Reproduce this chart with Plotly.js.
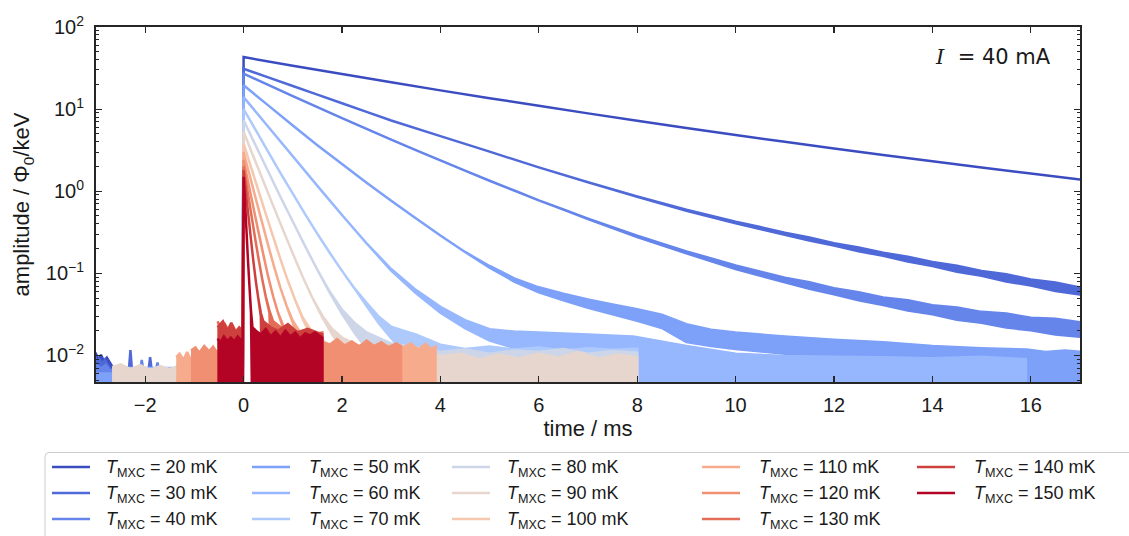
<!DOCTYPE html>
<html><head><meta charset="utf-8">
<script src="https://cdn.plot.ly/plotly-3.0.1.min.js"></script>
<style>html,body{margin:0;padding:0;background:#fff}#chart{width:1129px;height:536px}</style>
</head><body><div id="chart"></div>
<script>
// ---------------- data ----------------
const temps = [20, 30, 40, 50, 60, 70, 80, 90, 100, 110, 120, 130, 140, 150];
const colors = ['#3b4cc0','#4f69d8','#6585eb','#7da0f8','#96b7fe','#aec9fb','#cdd6e8',
                '#e6d6ce','#f4c7ae','#f7ab8d','#f18f72','#e36d57','#ce403d','#b40426'];

// each trace: time (ms), upper envelope, lower envelope (amplitude / Phi0/keV)
const t20  = [-3.5,-3.0,-2.95,-2.9,-2.84,-2.78,-2.72,-2.66,-2.0,-1.0,-0.02, 0,1,2,3,4,5,6,7,8,9,10,11,12,13,14,15,16,17,17.5];
const hi20 = [0.0095,0.0105,0.0088,0.0102,0.0086,0.0094,0.0082,0.0072,0.0068,0.0068,0.0068, 43,33.8,26.7,21.2,16.9,13.6,11.0,8.87,7.21,5.90,4.84,3.99,3.31,2.76,2.31,1.94,1.64,1.39,1.28];
const lo20 = [0.001,0.001,0.001,0.001,0.001,0.001,0.001,0.001,0.001,0.001,0.001, 43,33.8,26.7,21.2,16.9,13.6,11.0,8.87,7.21,5.90,4.84,3.99,3.31,2.76,2.31,1.94,1.64,1.39,1.28];

const t30  = [-3.5,-3.02,-2.97,-2.93,-2.88,-2.82,-2.76,-2.7,-2.33,-2.3,-2.27,-1.93,-1.9,-1.87,-1.0,-0.02, 0,0.5,1,1.5,2,2.5,3,4,5,6,7,8,9,10,10.5,11,11.5,12,12.5,13,13.5,14,14.5,15,15.5,16,16.5,17,17.5];
const hi30 = [0.0085,0.0098,0.0083,0.0092,0.0078,0.0088,0.0076,0.0068,0.0068,0.0116,0.0068,0.0068,0.0095,0.0068,0.0066,0.0066, 31,24.3,19.1,15.0,11.8,9.25,7.26,4.69,3.03,1.95,1.285,0.865,0.595,0.425,0.366,0.311,0.273,0.233,0.207,0.178,0.159,0.137,0.1237,0.1066,0.0972,0.0841,0.0772,0.0669,0.0603];
const lo30 = [0.001,0.001,0.001,0.001,0.001,0.001,0.001,0.001,0.001,0.001,0.001,0.001,0.001,0.001,0.001,0.001, 31,24.3,19.1,15.0,11.8,9.25,7.26,4.69,3.03,1.95,1.285,0.853,0.579,0.407,0.345,0.295,0.250,0.218,0.186,0.163,0.1387,0.1225,0.1047,0.0933,0.0795,0.0712,0.0608,0.0551,0.0479];

const t40  = [-3.5,-3.0,-2.9,-2.8,-2.72,-2.1,-2.07,-2.04,-1.78,-1.75,-1.72,-1.0,-0.02, 0,0.5,1,1.5,2,2.5,3,3.5,4,4.5,5,5.5,6,6.5,7,8,9,10,11,11.5,12,12.5,13,13.5,14,14.5,15,15.5,16,16.5,17,17.5];
const hi40 = [0.0072,0.0078,0.007,0.0076,0.0066,0.0066,0.0088,0.0066,0.0066,0.0082,0.0066,0.0064,0.0064, 27,19.7,14.4,10.6,7.78,5.75,4.26,3.17,2.37,1.78,1.34,1.02,0.774,0.598,0.464,0.288,0.185,0.125,0.0884,0.0776,0.0656,0.0589,0.0509,0.0469,0.0409,0.0383,0.0339,0.0323,0.0288,0.0279,0.0254,0.0240];
const lo40 = [0.001,0.001,0.001,0.001,0.001,0.001,0.001,0.001,0.001,0.001,0.001,0.001,0.001, 27,19.7,14.4,10.6,7.78,5.75,4.26,3.17,2.37,1.78,1.34,1.02,0.774,0.598,0.456,0.277,0.175,0.113,0.0777,0.0646,0.0556,0.0468,0.0411,0.0352,0.0316,0.0272,0.025,0.0218,0.0203,0.018,0.0169,0.0154];

const t50  = [-3.5,-1.0,-0.02, 0,0.5,1,1.5,2,2.5,3,3.5,4,4.5,5,5.5,6,6.5,7,7.5,8,8.5,9,9.5,10,11,12,13,14,15,15.9,15.92,16.3,16.7,17.5];
const hi50 = [0.006,0.006,0.006, 19.5,11.1,6.3,3.63,2.14,1.27,0.767,0.468,0.288,0.182,0.1228,0.0869,0.0675,0.0563,0.0479,0.0417,0.0364,0.0313,0.024,0.0205,0.019,0.017,0.0155,0.0145,0.013,0.0122,0.0118,0.0118,0.011,0.0115,0.0105];
const lo50 = [0.001,0.001,0.001, 19.5,11.1,6.3,3.63,2.14,1.27,0.767,0.468,0.288,0.182,0.1173,0.0793,0.0588,0.0468,0.038,0.0316,0.0264,0.0216,0.0145,0.013,0.012,0.0105,0.0098,0.0092,0.0088,0.0085,0.0082,0.001,0.001,0.001,0.001];

const t60  = [-2.67,-1.0,-0.02, 0,0.5,1,1.5,2,2.5,3,3.5,4,4.5,5,5.5,6,7,7.9,7.92,9,10,11,12,13,14,15,15.9];
const hi60 = [0.007,0.007,0.007, 14,6.1,2.67,1.16,0.513,0.232,0.1126,0.0628,0.039,0.0269,0.0209,0.0195,0.019,0.018,0.017,0.017,0.013,0.0105,0.0098,0.0096,0.0095,0.0092,0.0096,0.009];
const lo60 = [0.001,0.001,0.001, 14,6.1,2.67,1.16,0.513,0.232,0.1075,0.0573,0.0332,0.0214,0.0152,0.0123,0.0118,0.0115,0.0113,0.001,0.001,0.001,0.001,0.001,0.001,0.001,0.001,0.001];

const t70  = [-2.67,-1.0,-0.02, 0,0.25,0.5,0.75,1,1.25,1.5,1.75,2,2.25,2.5,2.75,3,3.25,3.5,4,4.5,5,5.5,6,6.5,7,7.5,8];
const hi70 = [0.0068,0.0068,0.0068, 10,5.5,3.02,1.66,0.933,0.525,0.302,0.178,0.107,0.066,0.0436,0.0295,0.0223,0.02,0.018,0.0135,0.012,0.0128,0.0118,0.0125,0.0115,0.0122,0.0117,0.012];
const lo70 = [0.001,0.001,0.001, 10,5.5,3.02,1.66,0.933,0.525,0.302,0.178,0.107,0.066,0.0398,0.0245,0.0162,0.011,0.001,0.001,0.001,0.001,0.001,0.001,0.001,0.001,0.001,0.001];

const t80  = [-2.67,-1.0,-0.02, 0,0.25,0.5,0.75,1,1.25,1.5,1.75,2,2.25,2.5,3,3.5,4,4.5,5,5.5,6,6.5,7,7.5,8];
const hi80 = [0.0068,0.0068,0.0068, 7.3,3.55,1.74,0.85,0.427,0.214,0.11,0.06,0.036,0.025,0.019,0.014,0.0125,0.011,0.0118,0.0105,0.0115,0.011,0.012,0.0105,0.0113,0.0108];
const lo80 = [0.001,0.001,0.001, 7.3,3.55,1.74,0.85,0.427,0.214,0.11,0.058,0.032,0.019,0.012,0.001,0.001,0.001,0.001,0.001,0.001,0.001,0.001,0.001,0.001,0.001];

const t90  = [-2.67,-2.5,-2.3,-2.1,-1.9,-1.7,-1.5,-1.3,-1.0,-0.5,-0.02, 0,0.2,0.4,0.6,0.8,1.0,1.2,1.4,1.6,1.8,2.0,2.3,2.6,3.0,3.5,4.0,4.4,4.8,5.2,5.6,6.0,6.4,6.8,7.2,7.6,8];
const hi90 = [0.0072,0.0078,0.0068,0.0076,0.0066,0.0074,0.0068,0.0075,0.007,0.007,0.007, 5.3,2.65,1.33,0.667,0.339,0.174,0.091,0.05,0.0305,0.021,0.0165,0.0135,0.012,0.0115,0.0105,0.0098,0.0105,0.009,0.0102,0.0092,0.0105,0.0094,0.011,0.0092,0.0102,0.0095];
const lo90 = [0.001,0.001,0.001,0.001,0.001,0.001,0.001,0.001,0.001,0.001,0.001, 5.3,2.65,1.33,0.667,0.339,0.174,0.091,0.05,0.029,0.018,0.012,0.001,0.001,0.001,0.001,0.001,0.001,0.001,0.001,0.001,0.001,0.001,0.001,0.001,0.001,0.001];

const t100  = [-1.3,-0.7,-0.02, 0,0.15,0.3,0.45,0.6,0.75,0.9,1.05,1.2,1.35,1.5,1.8,2.4,3.0,3.9];
const hi100 = [0.009,0.009,0.009, 3.8,1.97,1.02,0.53,0.279,0.148,0.081,0.047,0.029,0.021,0.0165,0.013,0.012,0.012,0.012];
const lo100 = [0.001,0.001,0.001, 3.8,1.97,1.02,0.53,0.279,0.148,0.081,0.047,0.028,0.018,0.012,0.001,0.001,0.001,0.001];

const t110  = [-1.37,-1.3,-1.22,-1.15,-1.08,-0.8,-0.4,-0.02, 0,0.125,0.25,0.375,0.5,0.625,0.75,0.875,1.0,1.15,1.5,2.0,2.5,3.0,3.25,3.4,3.55,3.7,3.8,3.9];
const hi110 = [0.0095,0.0105,0.0088,0.011,0.009,0.01,0.01,0.01, 3.0,1.55,0.80,0.417,0.219,0.117,0.066,0.04,0.0265,0.019,0.014,0.013,0.013,0.013,0.0125,0.014,0.0118,0.0138,0.012,0.0128];
const lo110 = [0.001,0.001,0.001,0.001,0.001,0.001,0.001,0.001, 3.0,1.55,0.80,0.417,0.219,0.117,0.066,0.04,0.025,0.014,0.001,0.001,0.001,0.001,0.001,0.001,0.001,0.001,0.001,0.001];

const t120  = [-1.07,-0.98,-0.9,-0.8,-0.7,-0.62,-0.55,-0.3,-0.02, 0,0.1,0.2,0.3,0.4,0.5,0.6,0.7,0.8,0.9,1.2,1.6,1.75,1.9,2.05,2.2,2.35,2.5,2.65,2.8,2.95,3.1,3.2];
const hi120 = [0.0115,0.0125,0.0108,0.013,0.0112,0.0128,0.011,0.012,0.012, 2.4,1.23,0.63,0.324,0.17,0.091,0.0525,0.033,0.0234,0.019,0.016,0.0145,0.0135,0.0158,0.0132,0.0148,0.0128,0.0152,0.013,0.0145,0.0125,0.014,0.013];
const lo120 = [0.001,0.001,0.001,0.001,0.001,0.001,0.001,0.001,0.001, 2.4,1.23,0.63,0.324,0.17,0.091,0.0525,0.033,0.022,0.014,0.001,0.001,0.001,0.001,0.001,0.001,0.001,0.001,0.001,0.001,0.001,0.001,0.001];

const t130  = [-0.53,-0.45,-0.38,-0.3,-0.22,-0.14,-0.06,-0.02, 0,0.075,0.15,0.225,0.3,0.375,0.45,0.525,0.6,0.8,1.0,1.2,1.4,1.6];
const hi130 = [0.026,0.021,0.024,0.02,0.023,0.019,0.021,0.02, 2.0,1.05,0.55,0.288,0.155,0.087,0.052,0.035,0.026,0.021,0.019,0.02,0.018,0.019];
const lo130 = [0.001,0.001,0.001,0.001,0.001,0.001,0.001,0.001, 2.0,1.05,0.55,0.288,0.155,0.087,0.052,0.033,0.001,0.001,0.001,0.001,0.001,0.001];

const t140  = [-0.53,-0.42,-0.33,-0.25,-0.17,-0.09,-0.02, 0,0.05,0.1,0.15,0.2,0.25,0.3,0.35,0.4,0.55,0.7,0.9,1.1,1.3,1.6];
const hi140 = [0.022,0.026,0.02,0.025,0.019,0.022,0.02, 1.8,0.93,0.49,0.257,0.138,0.079,0.049,0.033,0.026,0.022,0.02,0.024,0.019,0.021,0.018];
const lo140 = [0.001,0.001,0.001,0.001,0.001,0.001,0.001, 1.8,0.93,0.49,0.257,0.138,0.079,0.049,0.03,0.001,0.001,0.001,0.001,0.001,0.001,0.001];

const t150  = [-0.53,-0.47,-0.4,-0.33,-0.26,-0.19,-0.12,-0.06,-0.02, 0,0.03,0.06,0.09,0.12,0.15,0.18,0.25,0.35,0.45,0.55,0.65,0.75,0.85,0.95,1.05,1.15,1.25,1.35,1.45,1.6];
const hi150 = [0.016,0.0145,0.017,0.015,0.0165,0.0148,0.017,0.0155,0.016, 1.5,0.71,0.32,0.14,0.068,0.035,0.022,0.02,0.018,0.021,0.017,0.0195,0.0165,0.02,0.017,0.019,0.016,0.0185,0.0175,0.019,0.0165];
const lo150 = [0.001,0.001,0.001,0.001,0.001,0.001,0.001,0.001,0.001, 1.5,0.71,0.32,0.14,0.068,0.033,0.001,0.001,0.001,0.001,0.001,0.001,0.001,0.001,0.001,0.001,0.001,0.001,0.001,0.001,0.001];

const yTickVals = [0.01, 0.1, 1, 10, 100];
const yTickText = ['10<sup>\u22122</sup>', '10<sup>\u22121</sup>', '10<sup>0</sup>', '10<sup>1</sup>', '10<sup>2</sup>'];
const currentLabel = '<span style="font-family:\'DejaVu Serif\'"><i>I</i></span>\u00a0\u00a0= 40 mA';

// ---------------- drawing ----------------
const series = [[t20,hi20,lo20],[t30,hi30,lo30],[t40,hi40,lo40],[t50,hi50,lo50],[t60,hi60,lo60],
  [t70,hi70,lo70],[t80,hi80,lo80],[t90,hi90,lo90],[t100,hi100,lo100],[t110,hi110,lo110],
  [t120,hi120,lo120],[t130,hi130,lo130],[t140,hi140,lo140],[t150,hi150,lo150]];

const traces = series.map((s, i) => ({
  type: 'scatter', mode: 'lines',
  x: s[0].concat(s[0].slice().reverse()),
  y: s[1].concat(s[2].slice().reverse()),
  fill: 'toself', fillcolor: colors[i],
  line: {color: colors[i], width: 2.5, simplify: false},
  hoverinfo: 'skip', showlegend: false,
  name: 'T_MXC = ' + temps[i] + ' mK'
}));

// minor log ticks (axis decoration)
const minorVals = [];
for (let d = -3; d <= 1; d++) for (let k = 2; k <= 9; k++) minorVals.push(k * Math.pow(10, d));

const L = 96, R = 1080, T = 27, Bt = 382;
const W = R - L, H = Bt - T;
const px = x => (x - L) / W;
const py = y => (Bt - y) / H;

const txt = '#1a1a1a', ax = '#262626';
const shapes = [];
const annotations = [];

// legend frame
shapes.push({type: 'path', xref: 'paper', yref: 'paper', layer: 'above',
  path: `M ${px(1140)} ${py(452.5)} L ${px(49)} ${py(452.5)} Q ${px(45)} ${py(452.5)} ${px(45)} ${py(456.5)} L ${px(45)} ${py(545)}`,
  line: {color: '#cccccc', width: 1}});

const colLine = [52, 252, 452, 702, 917];
const colText = [104, 307, 505, 757, 972];
const rowY = [467, 493, 519];
temps.forEach((tm, i) => {
  const c = Math.floor(i / 3), r = i % 3;
  shapes.push({type: 'line', xref: 'paper', yref: 'paper', layer: 'above',
    x0: px(colLine[c]), x1: px(colLine[c] + 38), y0: py(rowY[r]), y1: py(rowY[r]),
    line: {color: colors[i], width: 2.5}});
  annotations.push({xref: 'paper', yref: 'paper', x: px(colText[c]), y: py(rowY[r] + 1),
    xanchor: 'left', yanchor: 'middle', showarrow: false,
    text: '<i>T</i><sub>MXC</sub> = ' + tm + ' mK', font: {size: 18, color: txt}});
});
annotations.push({xref: 'paper', yref: 'paper', x: px(1053), y: py(57), xanchor: 'right', yanchor: 'middle',
  showarrow: false, text: currentLabel, font: {size: 21, color: txt, family: 'DejaVu Sans, sans-serif'}});

const layout = {
  width: 1129, height: 536,
  margin: {l: L, r: 1129 - R, t: T, b: 536 - Bt},
  paper_bgcolor: '#fff', plot_bgcolor: '#fff',
  font: {family: 'Liberation Sans, Arial, sans-serif', color: txt},
  showlegend: false,
  xaxis: {range: [-3, 17], tickmode: 'linear', tick0: 0, dtick: 2,
    ticks: 'inside', ticklen: 6, tickwidth: 1.2, tickcolor: ax,
    showline: true, linewidth: 2, linecolor: ax, mirror: 'allticks',
    showgrid: false, zeroline: false, tickfont: {size: 20, color: txt},
    ticklabelstandoff: 4,
    title: {text: 'time / ms', font: {size: 22, color: txt}, standoff: 3}},
  yaxis: {type: 'log', range: [-2.324, 2], tickmode: 'array', tickvals: yTickVals, ticktext: yTickText,
    ticks: 'inside', ticklen: 6, tickwidth: 1.2, tickcolor: ax,
    minor: {tickmode: 'array', tickvals: minorVals, ticks: 'inside', ticklen: 3, tickwidth: 1, tickcolor: ax},
    showline: true, linewidth: 2, linecolor: ax, mirror: 'allticks',
    showgrid: false, zeroline: false, tickfont: {size: 20, color: txt},
    ticklabelstandoff: 6,
    title: {text: 'amplitude / \u03a6<sub>0</sub>/keV', font: {size: 22, color: txt}, standoff: 10}},
  shapes: shapes,
  annotations: annotations
};

Plotly.newPlot('chart', traces, layout, {staticPlot: true, displayModeBar: false});
</script>
</body></html>
